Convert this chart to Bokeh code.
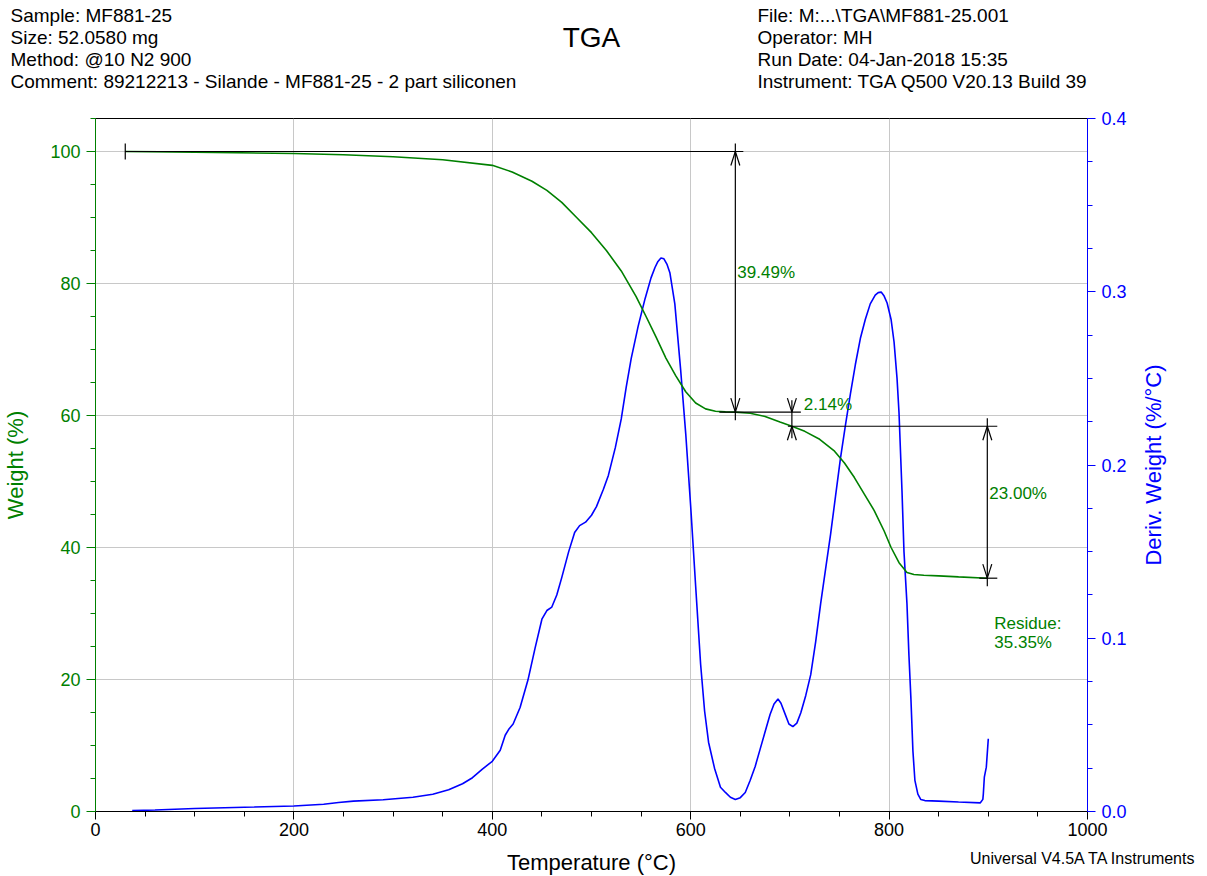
import math
from bokeh.plotting import figure
from bokeh.layouts import column, row
from bokeh.models import Range1d, LinearAxis, SingleIntervalTicker, PrintfTickFormatter
from bokeh.core.properties import value
from bokeh.embed import file_html
from bokeh.resources import INLINE

# ---------------- data ----------------
temp_w = [30, 100, 200, 250, 300, 350, 400, 420, 440, 455, 470, 485, 500, 515, 530, 545,
          555, 565, 575, 585, 595, 605, 615, 625, 635, 645, 660, 675, 690, 702, 715, 730,
          745, 755, 765, 775, 785, 795, 802, 810, 818, 825, 835, 850, 870, 899]
weight = [100.0, 99.9, 99.7, 99.5, 99.2, 98.75, 97.9, 96.9, 95.5, 94.1, 92.3, 90.0, 87.7,
          85.0, 81.9, 78.0, 75.0, 71.9, 68.7, 66.0, 63.6, 61.9, 61.0, 60.65, 60.55, 60.51,
          60.35, 59.85, 59.0, 58.37, 57.6, 56.4, 54.6, 52.8, 50.6, 48.1, 45.6, 42.5, 40.0,
          37.7, 36.2, 35.9, 35.8, 35.7, 35.55, 35.35]

temp_d = [37, 60, 80, 100, 130, 160, 200, 230, 245, 260, 290, 320, 340, 356, 370, 380, 390,
          400, 408, 413, 417, 421, 428, 436, 443, 450, 455, 460, 465, 470, 477, 483, 488, 494,
          500, 505, 512, 517, 524, 530, 535, 540, 547, 554, 560, 564, 567, 570, 573, 576, 579,
          584, 590, 595, 600, 605, 610, 614, 618, 624, 630, 635, 640, 645, 650, 655, 660, 665,
          670, 675, 680, 684, 688, 691, 695, 699, 703, 707, 711, 716, 721, 726, 731, 736, 741,
          746, 751, 756, 761, 766, 771, 776, 781, 786, 789, 792, 795, 798, 802, 805, 808, 810,
          813, 815, 818, 820, 822, 824, 826, 829, 832, 836, 850, 870, 892, 894.5, 895, 896, 898,
          900]
deriv = [0.0005, 0.0009, 0.0013, 0.0017, 0.0022, 0.0026, 0.0032, 0.0042, 0.0052, 0.0060,
         0.0068, 0.0082, 0.0100, 0.0125, 0.0160, 0.0195, 0.0244, 0.0290, 0.0353, 0.0440,
         0.0478, 0.0505, 0.0600, 0.0760, 0.0940, 0.1110, 0.1160, 0.1180, 0.1250, 0.1350,
         0.1500, 0.1610, 0.1650, 0.1670, 0.1710, 0.1760, 0.1860, 0.1940, 0.2100, 0.2266,
         0.2450, 0.2614, 0.2800, 0.2960, 0.3080, 0.3140, 0.3175, 0.3195, 0.3190, 0.3160,
         0.3110, 0.2930, 0.2540, 0.2180, 0.1760, 0.1300, 0.0850, 0.0580, 0.0400, 0.0250,
         0.0140, 0.0110, 0.0082, 0.0069, 0.0080, 0.0110, 0.0180, 0.0260, 0.0360, 0.0460,
         0.0560, 0.0620, 0.0649, 0.0625, 0.0565, 0.0505, 0.0490, 0.0510, 0.0570, 0.0670,
         0.0790, 0.0980, 0.1200, 0.1400, 0.1600, 0.1820, 0.2040, 0.2230, 0.2410, 0.2580,
         0.2730, 0.2840, 0.2930, 0.2980, 0.2995, 0.2998, 0.2975, 0.2935, 0.2840, 0.2710,
         0.2500, 0.2300, 0.1850, 0.1500, 0.1200, 0.0900, 0.0650, 0.0350, 0.0180, 0.0100,
         0.0069, 0.0063, 0.0060, 0.0055, 0.0050, 0.0070, 0.0102, 0.0198, 0.0256, 0.0420]

# step analysis (temperatures and weight levels) and their labels
plateau_start_t = 30
step_t = [645, 702, 899]
level_start = 100.0
level = [60.51, 58.37, 35.35]
step_labels = ["39.49%", "2.14%", "23.00%"]
residue_label = ["Residue:", "35.35%"]

x_label = "Temperature (°C)"
left_label = "Weight (%)"
right_label = "Deriv. Weight (%/°C)"

header_left = ["Sample: MF881-25", "Size:  52.0580 mg", "Method: @10 N2 900",
               "Comment: 89212213 - Silande - MF881-25 - 2 part siliconen"]
header_right = ["File: M:...\\TGA\\MF881-25.001", "Operator: MH",
                "Run Date: 04-Jan-2018 15:35", "Instrument: TGA Q500 V20.13 Build 39"]
title_text = "TGA"
footer_text = "Universal V4.5A TA Instruments"

# ---------------- layout ----------------
W = 1207
HEAD_H = 98
FOOT_H = 31
SIDE_W = 66
L, R, T, B = 93, 54, 20, 34
FW, FH = 994, 693
MAIN_W = L + FW + R
MAIN_H = T + FH + B
XMAX, YMAX, DMAX = 1000.0, 105.0, 0.4
GREEN = "#008000"
BLUE = "#0000FF"
FONT = "Liberation Sans"


def px_w(n):
    return n * XMAX / FW


def px_h(n):
    return n * YMAX / FH


def dy(py):
    # page y (px) -> weight units in the main frame (frame top at page y 118)
    return (118 + FH - py) * YMAX / FH


def blank(width, height):
    f = figure(width=width, height=height, output_backend="svg", toolbar_location=None,
               x_range=Range1d(0, width), y_range=Range1d(height, 0),
               x_axis_location=None, y_axis_location=None, min_border=0)
    f.frame_align = False
    f.outline_line_color = None
    f.grid.visible = False
    f.background_fill_color = "white"
    f.border_fill_color = "white"
    return f


# header
head = blank(W, HEAD_H)
head.text(x=[10] * 4, y=[15 + 22 * i for i in range(4)], text=header_left,
          text_font=value(FONT), text_font_size=value("19px"), text_color="black",
          text_align="left", text_baseline="middle")
head.text(x=[757] * 4, y=[15 + 22 * i for i in range(4)], text=header_right,
          text_font=value(FONT), text_font_size=value("19px"), text_color="black",
          text_align="left", text_baseline="middle")
head.text(x=[591], y=[37], text=[title_text], text_font=value(FONT),
          text_font_size=value("28px"), text_color="black", text_align="center",
          text_baseline="middle")

# main plot
p = figure(width=MAIN_W, height=MAIN_H, output_backend="svg", toolbar_location=None,
           x_range=Range1d(0, XMAX), y_range=Range1d(0, YMAX),
           min_border_left=L, min_border_right=R, min_border_top=T, min_border_bottom=B)
p.frame_align = False
p.extra_y_ranges = {"d": Range1d(0, DMAX)}
p.background_fill_color = "white"
p.border_fill_color = "white"
p.outline_line_color = "black"
p.outline_line_width = 1

xt = SingleIntervalTicker(interval=200, num_minor_ticks=4)
yt = SingleIntervalTicker(interval=20, num_minor_ticks=4)
dt = SingleIntervalTicker(interval=0.1, num_minor_ticks=4)

p.xaxis.ticker = xt
p.yaxis.ticker = yt
p.xgrid.ticker = xt
p.ygrid.ticker = yt
for g in (p.xgrid, p.ygrid):
    g.grid_line_color = "#c8c8c8"
    g.grid_line_width = 1

xa = p.xaxis[0]
xa.axis_line_color = "black"
xa.major_tick_line_color = "black"
xa.minor_tick_line_color = "black"
xa.major_tick_in = 0
xa.major_tick_out = 8
xa.minor_tick_in = 0
xa.minor_tick_out = 5
xa.major_label_text_font = FONT
xa.major_label_text_font_size = "18px"
xa.major_label_text_color = "black"
xa.major_label_standoff = 3

ya = p.yaxis[0]
ya.axis_label = left_label
ya.axis_line_color = GREEN
ya.major_tick_line_color = GREEN
ya.minor_tick_line_color = GREEN
ya.major_label_text_color = GREEN
ya.axis_label_text_color = GREEN
ya.major_tick_in = 0
ya.major_tick_out = 9
ya.minor_tick_in = 0
ya.minor_tick_out = 5
ya.major_label_text_font = FONT
ya.major_label_text_font_size = "18px"
ya.major_label_standoff = 6
ya.axis_label_text_font = FONT
ya.axis_label_text_font_size = "22px"
ya.axis_label_text_font_style = "normal"
ya.axis_label_standoff = 19

ra = LinearAxis(y_range_name="d", ticker=dt, formatter=PrintfTickFormatter(format="%.1f"))
ra.axis_line_color = BLUE
ra.major_tick_line_color = BLUE
ra.minor_tick_line_color = BLUE
ra.major_label_text_color = BLUE
ra.major_tick_in = 0
ra.major_tick_out = 8
ra.minor_tick_in = 0
ra.minor_tick_out = 5
ra.major_label_text_font = FONT
ra.major_label_text_font_size = "18px"
ra.major_label_standoff = 6
p.add_layout(ra, "right")

# curves
p.line(temp_d, deriv, y_range_name="d", line_color=BLUE, line_width=1.6)
p.line(temp_w, weight, line_color=GREEN, line_width=1.6)

# ---------------- step analysis annotations ----------------
x0s, y0s, x1s, y1s = [], [], [], []


def seg(a, b, c, d):
    x0s.append(a); y0s.append(b); x1s.append(c); y1s.append(d)


def head_marks(x, y, up):
    s = 1 if up else -1
    hw, hl = px_w(4.5), px_h(14)
    seg(x - hw, y - s * hl, x, y)
    seg(x + hw, y - s * hl, x, y)


seg(plateau_start_t, level_start, step_t[0] + px_w(8), level_start)
seg(plateau_start_t, level_start - px_h(8), plateau_start_t, level_start + px_h(8))
seg(step_t[0], level_start + px_h(8), step_t[0], level[0] - px_h(8))
head_marks(step_t[0], level_start, True)
head_marks(step_t[0], level[0], False)
seg(step_t[0] - px_w(16), level[0], step_t[1] + px_w(9), level[0])
seg(step_t[1], level[0] + px_h(12), step_t[1], level[1] - px_h(12))
head_marks(step_t[1], level[0], False)
head_marks(step_t[1], level[1], True)
seg(step_t[1] - px_w(4), level[1], step_t[2] + px_w(10), level[1])
seg(step_t[2], level[1] + px_h(8), step_t[2], level[2] - px_h(8))
head_marks(step_t[2], level[1], True)
head_marks(step_t[2], level[2], False)
seg(step_t[2] - px_w(8), level[2], step_t[2] + px_w(10), level[2])

p.segment(x0s, y0s, x1s, y1s, line_color="black", line_width=1.2)

ann_x = [step_t[0] + px_w(2), step_t[1] + px_w(12), step_t[2] + px_w(2),
         step_t[2] + px_w(7), step_t[2] + px_w(7)]
ann_y = [dy(272), dy(404), dy(493), dy(623), dy(642)]
p.text(x=ann_x, y=ann_y, text=step_labels + residue_label, text_font=value(FONT),
       text_font_size=value("17px"), text_color=GREEN, text_align="left",
       text_baseline="middle")

# right-hand axis title (reads bottom to top, like the reference)
side = blank(SIDE_W, MAIN_H)
side.text(x=[12], y=[T + FH / 2], text=[right_label], text_font=value(FONT),
          text_font_size=value("22px"), text_color=BLUE, text_align="center",
          text_baseline="middle", angle=math.pi / 2)

# footer
foot = blank(W, FOOT_H)
foot.text(x=[591], y=[17], text=[x_label], text_font=value(FONT),
          text_font_size=value("22px"), text_color="black", text_align="center",
          text_baseline="middle")
foot.text(x=[1196], y=[13], text=[footer_text], text_font=value(FONT),
          text_font_size=value("16px"), text_color="black", text_align="right",
          text_baseline="middle")

layout = column(head, row(p, side, spacing=0), foot, spacing=0)
open("out.html", "w").write(file_html(layout, INLINE))
